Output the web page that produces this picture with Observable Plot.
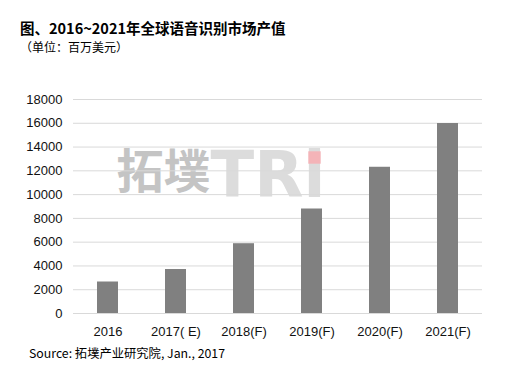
<!DOCTYPE html>
<html><head><meta charset="utf-8">
<script src="https://cdn.jsdelivr.net/npm/d3@7"></script>
<script src="https://cdn.jsdelivr.net/npm/@observablehq/plot@0.6"></script>
<style>
html,body{margin:0;padding:0;background:#fff;}
#wrap{position:relative;width:505px;height:374px;overflow:hidden;font-family:"Liberation Sans",Arial,sans-serif;}
.t{position:absolute;white-space:nowrap;color:#000;}
#title{left:20px;top:17px;font:bold 14.5px "Noto Sans CJK SC",sans-serif;}
#sub{left:20px;top:38px;font:12px "Noto Sans CJK SC",sans-serif;}
#src{left:29px;top:344px;font:12.3px "Noto Sans CJK SC","Liberation Sans",sans-serif;}
#chart{position:absolute;left:0;top:0;}
</style></head>
<body><div id="wrap"><div id="chart"></div>
<div class="t" id="title"></div><div class="t" id="sub"></div><div class="t" id="src"></div></div>
<script>
const titleText = "图、2016~2021年全球语音识别市场产值";
const subtitleText = "（单位：百万美元）";
const sourceText = "Source: 拓墣产业研究院, Jan., 2017";
const categories = ["2016", "2017( E)", "2018(F)", "2019(F)", "2020(F)", "2021(F)"];
const values = [2650, 3700, 5870, 8790, 12300, 15980];
const yTicks = [0, 2000, 4000, 6000, 8000, 10000, 12000, 14000, 16000, 18000];
const watermarkCn = ["拓墣"];
const watermarkEn = ["TRi"];

document.getElementById("title").textContent = titleText;
document.getElementById("sub").textContent = subtitleText;
document.getElementById("src").textContent = sourceText;

const data = categories.map((c, i) => ({cat: c, value: values[i]}));

const chart = Plot.plot({
  width: 505,
  height: 374,
  marginTop: 99,
  marginBottom: 61,
  marginLeft: 73,
  marginRight: 23,
  style: {fontFamily: "'Liberation Sans', Arial, sans-serif", fontSize: "13px", color: "#111", background: "transparent"},
  x: {domain: categories, label: null, paddingInner: 0.69, paddingOuter: 0.345, tickSize: 0, tickPadding: 13},
  y: {domain: [0, 18000], ticks: yTicks, label: null, tickSize: 0, tickPadding: 11, tickFormat: d => String(d)},
  marks: [
    Plot.text(watermarkCn, {text: d => d, frameAnchor: "top-left", lineAnchor: "top", dx: 43, dy: 55, textAnchor: "start", fontSize: 47, fontWeight: "bold", fill: "#c4c4c4", fontFamily: "'Noto Sans CJK SC', sans-serif"}),
    Plot.text(watermarkEn, {text: d => d, frameAnchor: "top-left", lineAnchor: "top", dx: 137, dy: 52, textAnchor: "start", fontSize: 64, fontWeight: "bold", fill: "#dcdcdc", fontFamily: "'DejaVu Sans', sans-serif"}),
    Plot.dot([0], {frameAnchor: "top-left", dx: 241, dy: 58, symbol: "square", r: 7, fill: "#f4b4b8", stroke: null}),
    Plot.gridY(yTicks, {stroke: "#d9d9d9", strokeOpacity: 1, strokeWidth: 1}),
    Plot.barY(data, {x: "cat", y: "value", fill: "#808080"})
  ]
});
document.getElementById("chart").appendChild(chart);
</script></body></html>
